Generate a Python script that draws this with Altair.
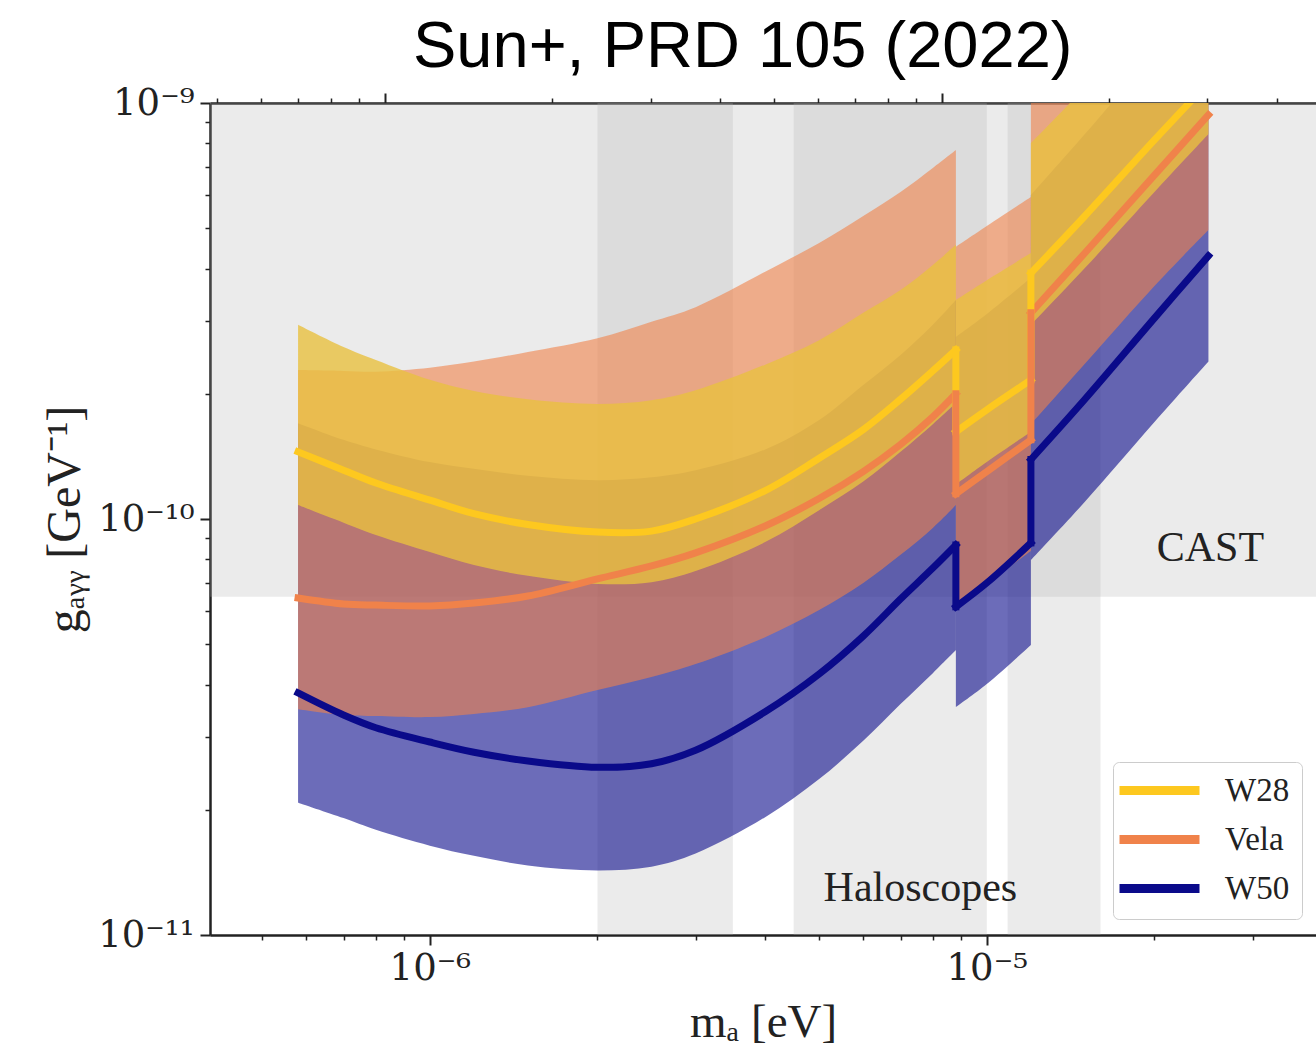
import math
import altair as alt
import pandas as pd

# ---------------- data ----------------
TITLE = "Sun+, PRD 105 (2022)"
X_TITLE = "mₐ [eV]"
Y_TITLE = "gₐᵧᵧ [GeV⁻¹]"

SERIES = ["W28", "Vela", "W50"]
LINE_COLORS = ["#fdc81f", "#f0824a", "#0a0a8a"]
FILL_COLORS = ["#e8c040", "#f0824a", "#0a0a8a"]
FILL_OPACITY = [0.8, 0.6, 0.6]

# axion mass (eV); repeated masses are the two sides of a step
MASS = [5.8e-7, 7e-7, 8e-7, 1e-6, 1.2e-6, 1.5e-6, 2e-6, 2.5e-6, 3e-6, 4e-6, 5e-6,
        6e-6, 7e-6, 8e-6, 8.8e-6, 8.8e-6, 1e-5, 1.2e-5, 1.2e-5, 1.5e-5, 2e-5, 2.5e-5]

W28_MID = [1.45e-10, 1.31e-10, 1.22e-10, 1.11e-10, 1.03e-10, 9.7e-11, 9.3e-11, 9.35e-11,
           1.0e-10, 1.17e-10, 1.40e-10, 1.64e-10, 1.94e-10, 2.27e-10, 2.55e-10, 1.62e-10,
           1.83e-10, 2.16e-10, 3.90e-10, 5.35e-10, 8.15e-10, 1.12e-9]
W28_HI = [2.93e-10, 2.59e-10, 2.41e-10, 2.16e-10, 2.03e-10, 1.94e-10, 1.89e-10, 1.93e-10,
          2.04e-10, 2.35e-10, 2.69e-10, 3.13e-10, 3.55e-10, 4.08e-10, 4.56e-10, 3.36e-10,
          3.75e-10, 4.36e-10, 8.01e-10, 1.09e-9, 1.66e-9, 2.28e-9]
W28_LO = [1.08e-10, 9.8e-11, 9.15e-11, 8.33e-11, 7.75e-11, 7.3e-11, 6.98e-11, 7.05e-11,
          7.5e-11, 8.8e-11, 1.05e-10, 1.23e-10, 1.45e-10, 1.69e-10, 1.90e-10, 1.21e-10,
          1.37e-10, 1.62e-10, 2.93e-10, 4.01e-10, 6.11e-10, 8.42e-10]

VELA_MID = [6.46e-11, 6.25e-11, 6.21e-11, 6.18e-11, 6.28e-11, 6.53e-11, 7.18e-11, 7.71e-11,
            8.29e-11, 9.62e-11, 1.12e-10, 1.30e-10, 1.51e-10, 1.76e-10, 2.0e-10, 1.15e-10,
            1.30e-10, 1.55e-10, 3.13e-10, 4.36e-10, 6.71e-10, 9.36e-10]
VELA_HI = [2.28e-10, 2.27e-10, 2.26e-10, 2.31e-10, 2.39e-10, 2.52e-10, 2.72e-10, 2.98e-10,
           3.23e-10, 3.93e-10, 4.61e-10, 5.35e-10, 6.11e-10, 6.98e-10, 7.71e-10, 4.51e-10,
           5.06e-10, 5.94e-10, 1.21e-9, 1.69e-9, 2.61e-9, 3.63e-9]
VELA_LO = [3.49e-11, 3.38e-11, 3.36e-11, 3.34e-11, 3.40e-11, 3.53e-11, 3.88e-11, 4.17e-11,
           4.48e-11, 5.20e-11, 6.04e-11, 7.02e-11, 8.20e-11, 9.52e-11, 1.08e-10, 6.25e-11,
           7.02e-11, 8.38e-11, 1.69e-10, 2.36e-10, 3.63e-10, 4.95e-10]

W50_MID = [3.82e-11, 3.38e-11, 3.15e-11, 2.91e-11, 2.75e-11, 2.62e-11, 2.53e-11, 2.58e-11,
           2.78e-11, 3.44e-11, 4.24e-11, 5.23e-11, 6.42e-11, 7.62e-11, 8.66e-11, 6.15e-11,
           7.02e-11, 8.76e-11, 1.39e-10, 1.94e-10, 3.04e-10, 4.29e-10]
W50_HI = [1.70e-10, 1.55e-10, 1.47e-10, 1.37e-10, 1.32e-10, 1.27e-10, 1.24e-10, 1.26e-10,
          1.31e-10, 1.47e-10, 1.73e-10, 2.10e-10, 2.48e-10, 2.93e-10, 3.36e-10, 2.74e-10,
          3.11e-10, 3.80e-10, 6.01e-10, 8.42e-10, 1.32e-9, 1.87e-9]
W50_LO = [2.08e-11, 1.91e-11, 1.79e-11, 1.64e-11, 1.55e-11, 1.47e-11, 1.43e-11, 1.46e-11,
          1.57e-11, 1.92e-11, 2.37e-11, 2.93e-11, 3.59e-11, 4.26e-11, 4.84e-11, 3.53e-11,
          4.01e-11, 4.98e-11, 7.97e-11, 1.10e-10, 1.71e-10, 2.39e-10]

X_DOMAIN = [4.03e-7, 3.9e-5]
Y_DOMAIN = [1e-11, 1e-9]

X_MAJOR = [1e-6, 1e-5]
X_MAJOR_LABELS = ["10⁻⁶", "10⁻⁵"]
X_MINOR = [5e-7, 6e-7, 7e-7, 8e-7, 9e-7, 2e-6, 3e-6, 4e-6, 5e-6, 6e-6, 7e-6, 8e-6,
           9e-6, 2e-5, 3e-5]
TOP_MAJOR = [8.3e-7, 8.3e-6]
TOP_MINOR = [4.15e-7, 4.98e-7, 5.81e-7, 6.64e-7, 7.47e-7, 1.66e-6, 2.49e-6, 3.32e-6,
             4.15e-6, 4.98e-6, 5.81e-6, 6.64e-6, 7.47e-6, 1.66e-5, 2.49e-5, 3.32e-5]
Y_MAJOR = [1e-11, 1e-10, 1e-9]
Y_MAJOR_LABELS = ["10⁻¹¹", "10⁻¹⁰", "10⁻⁹"]
Y_MINOR = [2e-11, 3e-11, 4e-11, 5e-11, 6e-11, 7e-11, 8e-11, 9e-11,
           2e-10, 3e-10, 4e-10, 5e-10, 6e-10, 7e-10, 8e-10, 9e-10]

CAST_LIMIT = 6.5e-11
HALO_LO = [2.0e-6, 4.5e-6, 1.09e-5]
HALO_HI = [3.5e-6, 1.0e-5, 1.6e-5]

NOTES = ["CAST", "Haloscopes"]
NOTE_M = [2.52e-5, 7.6e-6]
NOTE_G = [8.5e-11, 1.3e-11]

# ---------------- tables ----------------
SERIF = "Liberation Serif"
TICKFONT = "DejaVu Serif"
INK = "#222222"
CURVE = "catmull-rom"

# segment id: a new segment starts wherever a mass repeats (a step)
SEG = []
s = 0
for k, m in enumerate(MASS):
    if k > 0 and m == MASS[k - 1]:
        s += 1
    SEG.append(s)

bands = {
    "W28": (W28_MID, W28_HI, W28_LO),
    "Vela": (VELA_MID, VELA_HI, VELA_LO),
    "W50": (W50_MID, W50_HI, W50_LO),
}
frames = {}
step_rows = []
for name, (mid, hi, lo) in bands.items():
    frames[name] = pd.DataFrame({"m": MASS, "mid": mid, "hi": hi, "lo": lo,
                                 "seg": SEG, "series": name})
    for k in range(1, len(MASS)):
        if MASS[k] == MASS[k - 1]:
            step_rows.append({"m": MASS[k], "g0": mid[k - 1], "g1": mid[k], "series": name})
long_df = pd.concat([frames[s] for s in ["W50", "Vela", "W28"]], ignore_index=True)
step_df = pd.DataFrame(step_rows)

halo_df = pd.DataFrame({"lo": HALO_LO, "hi": HALO_HI,
                        "g0": [Y_DOMAIN[0]] * len(HALO_LO), "g1": [Y_DOMAIN[1]] * len(HALO_LO)})
cast_df = pd.DataFrame({"m0": [X_DOMAIN[0]], "m1": [X_DOMAIN[1]],
                        "g0": [CAST_LIMIT], "g1": [Y_DOMAIN[1]]})
notes_df = pd.DataFrame({"label": NOTES, "m": NOTE_M, "g": NOTE_G})


def major_test(majors):
    return " || ".join(
        f"abs(log(datum.value)/LN10 - ({math.log10(v):.6f})) < 0.002" for v in majors)


def label_expr(majors, labels):
    e = ""
    for v, lab in zip(majors, labels):
        e += f"abs(log(datum.value)/LN10 - ({math.log10(v):.6f})) < 0.002 ? '{lab}' : "
    return e + "''"


def tick_size(majors):
    return {"condition": {"test": major_test(majors), "value": 10}, "value": 5}


def tick_width(majors):
    return {"condition": {"test": major_test(majors), "value": 2}, "value": 1.5}


xs = alt.Scale(type="log", domain=X_DOMAIN)
ys = alt.Scale(type="log", domain=Y_DOMAIN)

common_axis = dict(grid=False, domainColor=INK, domainWidth=2.5, tickColor=INK,
                   labelFont=TICKFONT, labelColor=INK, labelOverlap=False,
                   titleFont=SERIF, titleColor=INK, titleFontWeight="normal")

y_axis = alt.Axis(values=Y_MAJOR + Y_MINOR, labelExpr=label_expr(Y_MAJOR, Y_MAJOR_LABELS),
                  tickSize=tick_size(Y_MAJOR), tickWidth=tick_width(Y_MAJOR),
                  labelFontSize=37, labelPadding=6, labelBaseline="middle",
                  title=Y_TITLE, titleFontSize=48, titlePadding=8, **common_axis)
bottom_axis = alt.Axis(orient="bottom", values=X_MAJOR + X_MINOR,
                       labelExpr=label_expr(X_MAJOR, X_MAJOR_LABELS),
                       tickSize=tick_size(X_MAJOR), tickWidth=tick_width(X_MAJOR),
                       labelFontSize=37, labelPadding=5, labelFlush=False,
                       title=X_TITLE, titleFontSize=47, titlePadding=13, **common_axis)
top_axis = alt.Axis(orient="top", values=TOP_MAJOR + TOP_MINOR, labels=False, title=None,
                    tickSize=tick_size(TOP_MAJOR), tickWidth=tick_width(TOP_MAJOR),
                    **common_axis)

color_scale = alt.Scale(domain=SERIES, range=LINE_COLORS)
legend = alt.Legend(title=None, orient="none", legendX=903, legendY=659,
                    symbolType="M-4,0L4,0", symbolSize=400, symbolStrokeWidth=9,
                    symbolOffset=18, labelFont=SERIF, labelFontSize=33, labelColor=INK,
                    labelOffset=49, rowPadding=12, padding=12, fillColor="white",
                    strokeColor="#cccccc", cornerRadius=6)

halo = alt.Chart(halo_df).mark_rect(color="#afafaf", opacity=0.25, clip=True).encode(
    x=alt.X("lo:Q", scale=xs, axis=top_axis), x2="hi:Q",
    y=alt.Y("g0:Q", scale=ys, axis=y_axis), y2="g1:Q")

cast = alt.Chart(cast_df).mark_rect(color="#afafaf", opacity=0.25, clip=True).encode(
    x=alt.X("m0:Q", scale=xs, axis=bottom_axis), x2="m1:Q",
    y=alt.Y("g0:Q", scale=ys, axis=y_axis), y2="g1:Q")

areas = []
for name in ["W50", "Vela", "W28"]:
    k = SERIES.index(name)
    areas.append(
        alt.Chart(frames[name]).mark_area(color=FILL_COLORS[k], opacity=FILL_OPACITY[k],
                                          clip=True, interpolate=CURVE).encode(
            x=alt.X("m:Q", scale=xs, axis=None),
            y=alt.Y("hi:Q", scale=ys, axis=y_axis, stack=None), y2="lo:Q",
            detail="seg:N"))

lines = alt.Chart(long_df).mark_line(strokeWidth=7, clip=True, interpolate=CURVE,
                                     strokeCap="square").encode(
    x=alt.X("m:Q", scale=xs, axis=None),
    y=alt.Y("mid:Q", scale=ys, axis=y_axis),
    color=alt.Color("series:N", scale=color_scale, legend=legend),
    detail="seg:N")

steps = alt.Chart(step_df).mark_rule(strokeWidth=7, clip=True, strokeCap="square").encode(
    x=alt.X("m:Q", scale=xs, axis=None),
    y=alt.Y("g0:Q", scale=ys, axis=y_axis), y2="g1:Q",
    color=alt.Color("series:N", scale=color_scale, legend=legend))

notes = alt.Chart(notes_df).mark_text(font=SERIF, fontSize=42, color=INK).encode(
    x=alt.X("m:Q", scale=xs, axis=None),
    y=alt.Y("g:Q", scale=ys, axis=y_axis),
    text="label:N")

chart = alt.layer(halo, cast, *areas, lines, steps, notes).resolve_axis(
    x="independent"
).properties(
    width=1106, height=832,
    title=alt.TitleParams(TITLE, anchor="start", dx=203, font="Liberation Sans",
                          fontSize=65, fontWeight="normal", color="black", offset=3,
                          frame="group"),
    autosize=alt.AutoSizeParams(type="none"),
    padding={"left": 210, "top": 103, "right": 0, "bottom": 119},
).configure_view(stroke=None).configure(background="white")

chart.save("out.html", embed_options={"renderer": "svg", "actions": False})
